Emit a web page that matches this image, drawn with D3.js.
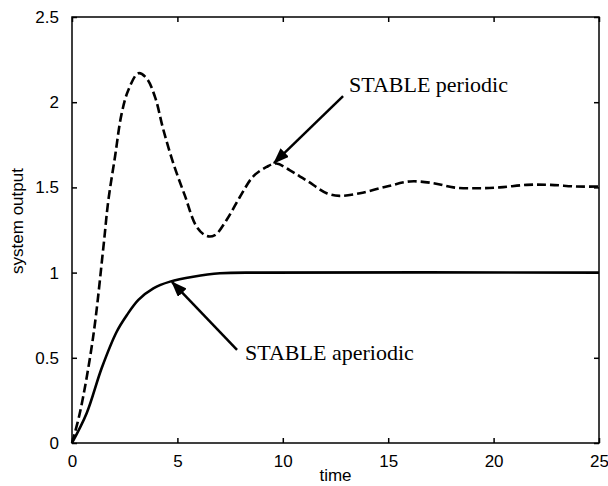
<!DOCTYPE html>
<html>
<head>
<meta charset="utf-8">
<script src="https://cdn.jsdelivr.net/npm/d3@7"></script>
<style>
  body { margin: 0; background: #fff; }
  .tick text { font-family: "Liberation Sans", Arial, sans-serif; font-size: 17px; fill: #000; }
  .tick line { stroke: #000; stroke-width: 1.5; }
</style>
</head>
<body>
<svg id="chart" width="608" height="486"></svg>
<script>
// data
var periodicTime = [0, 0.38, 1.0, 1.49, 1.72, 2.04, 2.35, 2.67, 3.15, 3.54, 3.94, 4.33, 4.81, 5.36, 5.91, 6.39, 6.78, 7.34, 7.97, 8.6, 9.23, 9.7, 10.34, 10.8, 11.2, 12.08, 12.7, 13.66, 14.93, 16.03, 17.14, 18.09, 19.2, 20.3, 21.57, 22.7, 23.94, 25];
var periodicOutput = [0, 0.18, 0.62, 1.15, 1.42, 1.68, 1.93, 2.07, 2.17, 2.14, 2.03, 1.84, 1.64, 1.45, 1.27, 1.215, 1.22, 1.31, 1.445, 1.565, 1.62, 1.64, 1.60, 1.565, 1.535, 1.466, 1.45, 1.466, 1.505, 1.535, 1.525, 1.50, 1.495, 1.50, 1.515, 1.515, 1.505, 1.505];
var aperiodicTime = [0, 0.7, 1.41, 2.12, 2.6, 3.15, 3.86, 4.65, 5.75, 7.02, 9, 25];
var aperiodicOutput = [0, 0.176, 0.44, 0.653, 0.75, 0.84, 0.908, 0.947, 0.976, 0.996, 1.0, 1.0];
var xTicks = [0, 5, 10, 15, 20, 25];
var yTicks = [0, 0.5, 1, 1.5, 2, 2.5];
var notes = [
  { label: "STABLE periodic", from: [12.86, 2.036], to: [9.58, 1.643], at: [13.14, 2.06] },
  { label: "STABLE aperiodic", from: [7.83, 0.546], to: [4.74, 0.945], at: [8.21, 0.487] }
];

var svg = d3.select("svg"),
  margin = { top: 17, right: 9, bottom: 43, left: 72 },
  width = +svg.attr("width") - margin.left - margin.right,
  height = +svg.attr("height") - margin.top - margin.bottom;

var x = d3.scaleLinear().domain([0, 25]).range([0, width]),
  y = d3.scaleLinear().domain([0, 2.5]).range([height, 0]);

var g = svg.append("g")
  .attr("transform", "translate(" + margin.left + "," + margin.top + ")");

// axes, ticks pointing inward, mirrored on top and right
g.append("g").attr("transform", "translate(0," + height + ")")
  .call(d3.axisBottom(x).tickValues(xTicks).tickSizeInner(-5).tickSizeOuter(0).tickPadding(12).tickFormat(d3.format("d")));
g.append("g")
  .call(d3.axisTop(x).tickValues(xTicks).tickSizeInner(-5).tickSizeOuter(0).tickFormat(""));
g.append("g")
  .call(d3.axisLeft(y).tickValues(yTicks).tickSizeInner(-5).tickSizeOuter(0).tickPadding(13).tickFormat(function (d) { return d; }));
g.append("g").attr("transform", "translate(" + width + ",0)")
  .call(d3.axisRight(y).tickValues(yTicks).tickSizeInner(-5).tickSizeOuter(0).tickFormat(""));
g.selectAll(".domain").remove();

g.append("rect")
  .attr("width", width).attr("height", height)
  .attr("fill", "none").attr("stroke", "#000").attr("stroke-width", 1.5);

var line = d3.line()
  .x(function (d) { return x(d[0]); })
  .y(function (d) { return y(d[1]); })
  .curve(d3.curveCatmullRom);

g.append("path")
  .datum(d3.zip(periodicTime, periodicOutput))
  .attr("fill", "none").attr("stroke", "#000").attr("stroke-width", 2.6)
  .attr("stroke-dasharray", "9,4")
  .attr("d", line);

g.append("path")
  .datum(d3.zip(aperiodicTime, aperiodicOutput))
  .attr("fill", "none").attr("stroke", "#000").attr("stroke-width", 2.6)
  .attr("d", line);

// annotations
svg.append("defs").append("marker")
  .attr("id", "head")
  .attr("viewBox", "0 0 16 12")
  .attr("refX", 15).attr("refY", 6)
  .attr("markerWidth", 16).attr("markerHeight", 12)
  .attr("markerUnits", "userSpaceOnUse")
  .attr("orient", "auto")
  .append("path").attr("d", "M0,0L16,6L0,12Z").attr("fill", "#000");

notes.forEach(function (n) {
  g.append("line")
    .attr("x1", x(n.from[0])).attr("y1", y(n.from[1]))
    .attr("x2", x(n.to[0])).attr("y2", y(n.to[1]))
    .attr("stroke", "#000").attr("stroke-width", 2.5)
    .attr("marker-end", "url(#head)");
  g.append("text")
    .attr("x", x(n.at[0])).attr("y", y(n.at[1]))
    .attr("font-family", "'Liberation Serif', 'Times New Roman', serif")
    .attr("font-size", 22)
    .text(n.label);
});

svg.append("text")
  .attr("x", margin.left + width / 2).attr("y", 481)
  .attr("text-anchor", "middle")
  .attr("font-family", "'Liberation Sans', Arial, sans-serif").attr("font-size", 17)
  .text("time");

svg.append("text")
  .attr("transform", "translate(23,221) rotate(-90)")
  .attr("text-anchor", "middle")
  .attr("font-family", "'Liberation Sans', Arial, sans-serif").attr("font-size", 17)
  .text("system output");
</script>
</body>
</html>
